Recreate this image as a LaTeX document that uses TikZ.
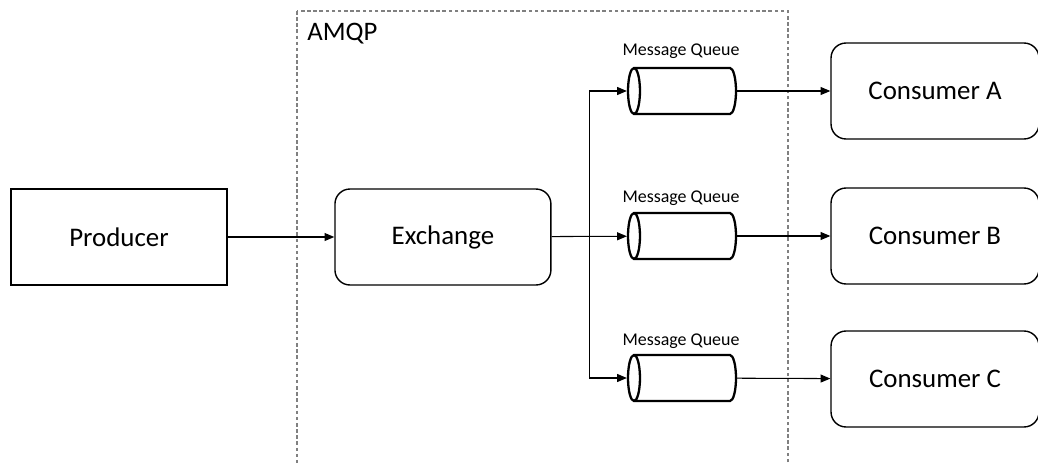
\documentclass[tikz,border=0pt]{standalone}
\usepackage{fontspec}
\setmainfont{Carlito}
\usetikzlibrary{shapes.geometric,arrows.meta}
\begin{document}
\begin{tikzpicture}[
    x=0.02cm, y=-0.02cm,
    node distance=2.9cm,
    block/.style={draw, line width=0.8pt, minimum width=4.32cm, minimum height=1.92cm, font=\fontsize{15.3}{18}\selectfont},
    rblock/.style={block, rounded corners=0.3cm},
    consumer/.style={rblock, minimum width=4.16cm},
    queue/.style={cylinder, shape border rotate=180, draw, line width=1.3pt, aspect=0.26, minimum width=0.92cm, minimum height=2.16cm, inner sep=0.46cm, anchor=shape center},
    qname/.style={font=\fontsize{10.2}{12}\selectfont},
    link/.style={line width=0.6pt, -{Triangle[length=5.5pt, width=4.5pt]}}
  ]
    \useasboundingbox (0,0) rectangle (1038,463);
    \draw[gray, line width=0.6pt, dash pattern=on 2pt off 1.5pt] (297,11) rectangle (788,480);
    \node[anchor=west, inner sep=0pt, font=\fontsize{15.2}{18}\selectfont] (amqp) at (307,34) {AMQP};

    \node[block] (prod) at (119,237) {Producer};
    \node[rblock, right of=prod, node distance=6.48cm] (exch) {Exchange};
    \node[queue] (q1) at (682,91) {};
    \node[queue] (q2) at (682,236) {};
    \node[queue] (q3) at (682,378) {};
    \node[qname] (l1) at (681,51) {Message Queue};
    \node[qname] (l2) at (681,198) {Message Queue};
    \node[qname] (l3) at (681,341) {Message Queue};
    \node[consumer] (cA) at (935,91) {Consumer A};
    \node[consumer] (cB) at (935,236) {Consumer B};
    \node[consumer] (cC) at (935,379) {Consumer C};

    \path (exch.east) -- (q2.west) coordinate[pos=0.5] (split);
    \draw[link] (prod) -- (exch);
    \draw[link] (exch) -- (q2);
    \draw[link] (split) |- (q1);
    \draw[link] (split) |- (q3);
    \draw[link] (q1) -- (cA);
    \draw[link] (q2) -- (cB);
    \draw[link] (q3) -- (cC);
\end{tikzpicture}
\end{document}
